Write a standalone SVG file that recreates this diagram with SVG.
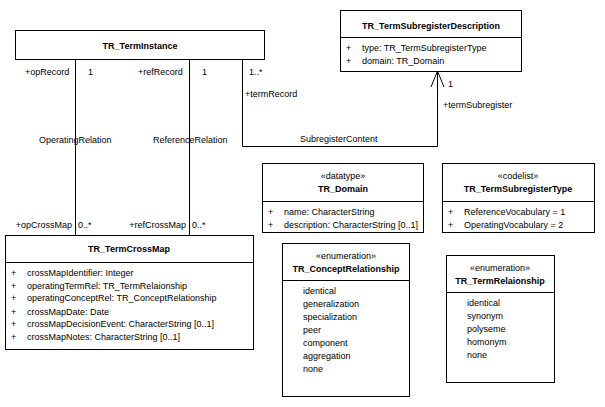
<svg xmlns="http://www.w3.org/2000/svg" width="605" height="407" viewBox="0 0 605 407">
  <style>
    text { font-family: "Liberation Sans", Arial, sans-serif; font-size: 9px; fill: #000; }
    .t { font-weight: bold; text-anchor: middle; }
    .s { text-anchor: middle; }
    .e { text-anchor: end; }
    .box { fill: #fff; stroke: #000; stroke-width: 1; }
    .ln { fill: none; stroke: #000; stroke-width: 1; }
  </style>
  <rect width="605" height="407" fill="#fff"/>

  <!-- connectors -->
  <g id="connectors">
    <path class="ln" d="M75.5 59 V235"/>
    <path class="ln" d="M189.5 59 V235"/>
    <path class="ln" d="M242.5 59 V146.5 H437.5 V71"/>
    <path class="ln" d="M431 87 L437.5 71 L444 87"/>
    <text x="25" y="75">+opRecord</text>
    <text x="88" y="75">1</text>
    <text x="138" y="75">+refRecord</text>
    <text x="202" y="75">1</text>
    <text x="249" y="75">1..*</text>
    <text x="245" y="97">+termRecord</text>
    <text x="39" y="143">OperatingRelation</text>
    <text x="153" y="143">ReferenceRelation</text>
    <text x="300" y="142">SubregisterContent</text>
    <text x="448" y="87">1</text>
    <text x="443" y="108">+termSubregister</text>
    <text class="e" x="72" y="228">+opCrossMap</text>
    <text x="78" y="228">0..*</text>
    <text class="e" x="186" y="228">+refCrossMap</text>
    <text x="192" y="228">0..*</text>
  </g>

  <g id="TR_TermInstance">
    <rect class="box" x="15.5" y="30.5" width="249" height="29"/>
    <text class="t" x="140" y="49">TR_TermInstance</text>
  </g>

  <g id="TR_TermSubregisterDescription">
    <rect class="box" x="340.5" y="10.5" width="181" height="61"/>
    <path class="ln" d="M340.5 37.5 H521.5"/>
    <text class="t" x="431" y="29">TR_TermSubregisterDescription</text>
    <text x="346" y="51">+</text><text x="362" y="51">type: TR_TermSubregisterType</text>
    <text x="346" y="64">+</text><text x="362" y="64">domain: TR_Domain</text>
  </g>

  <g id="TR_TermCrossMap">
    <rect class="box" x="5.5" y="235.5" width="248" height="114"/>
    <path class="ln" d="M5.5 262.5 H253.5"/>
    <text class="t" x="129" y="252">TR_TermCrossMap</text>
    <text x="11" y="276">+</text><text x="27" y="276">crossMapIdentifier: Integer</text>
    <text x="11" y="289">+</text><text x="27" y="289">operatingTermRel: TR_TermRelaionship</text>
    <text x="11" y="301">+</text><text x="27" y="301">operatingConceptRel: TR_ConceptRelationship</text>
    <text x="11" y="315">+</text><text x="27" y="315">crossMapDate: Date</text>
    <text x="11" y="327">+</text><text x="27" y="327">crossMapDecisionEvent: CharacterString [0..1]</text>
    <text x="11" y="340">+</text><text x="27" y="340">crossMapNotes: CharacterString [0..1]</text>
  </g>

  <g id="TR_Domain">
    <rect class="box" x="262.5" y="163.5" width="161" height="69"/>
    <path class="ln" d="M262.5 201.5 H423.5"/>
    <text class="s" x="343" y="179">«datatype»</text>
    <text class="t" x="343" y="192">TR_Domain</text>
    <text x="268" y="215">+</text><text x="284" y="215">name: CharacterString</text>
    <text x="268" y="228">+</text><text x="284" y="228">description: CharacterString [0..1]</text>
  </g>

  <g id="TR_TermSubregisterType">
    <rect class="box" x="442.5" y="163.5" width="152" height="69"/>
    <path class="ln" d="M442.5 201.5 H594.5"/>
    <text class="s" x="518" y="179">«codelist»</text>
    <text class="t" x="518" y="192">TR_TermSubregisterType</text>
    <text x="448" y="215">+</text><text x="464" y="215">ReferenceVocabulary = 1</text>
    <text x="448" y="228">+</text><text x="464" y="228">OperatingVocabulary = 2</text>
  </g>

  <g id="TR_ConceptRelationship">
    <rect class="box" x="282.5" y="243.5" width="127" height="153"/>
    <path class="ln" d="M282.5 280.5 H409.5"/>
    <text class="s" x="346" y="259">«enumeration»</text>
    <text class="t" x="346" y="272">TR_ConceptRelationship</text>
    <text x="303" y="294">identical</text>
    <text x="303" y="307">generalization</text>
    <text x="303" y="320">specialization</text>
    <text x="303" y="333">peer</text>
    <text x="303" y="346">component</text>
    <text x="303" y="359">aggregation</text>
    <text x="303" y="372">none</text>
  </g>

  <g id="TR_TermRelaionship">
    <rect class="box" x="446.5" y="255.5" width="108" height="127"/>
    <path class="ln" d="M446.5 292.5 H554.5"/>
    <text class="s" x="500" y="271">«enumeration»</text>
    <text class="t" x="500" y="284">TR_TermRelaionship</text>
    <text x="467" y="306">identical</text>
    <text x="467" y="319">synonym</text>
    <text x="467" y="332">polyseme</text>
    <text x="467" y="345">homonym</text>
    <text x="467" y="358">none</text>
  </g>
</svg>
